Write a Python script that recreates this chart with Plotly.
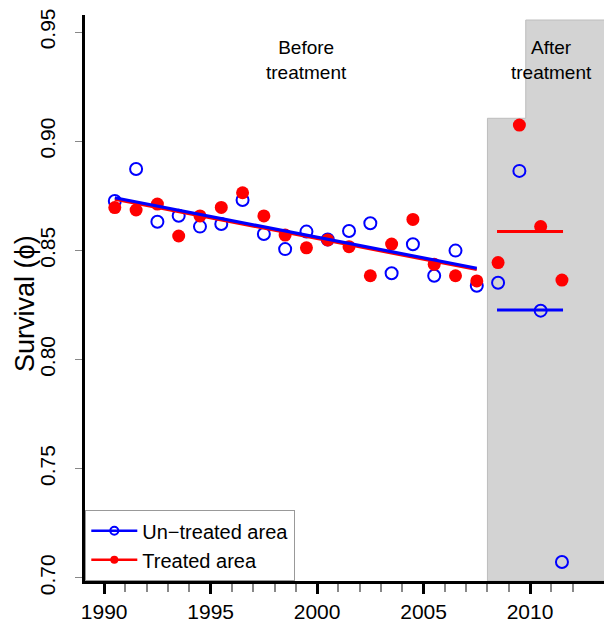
import plotly.graph_objects as go

# ---- data ----
years = [1990.5, 1991.5, 1992.5, 1993.5, 1994.5, 1995.5, 1996.5, 1997.5, 1998.5, 1999.5,
         2000.5, 2001.5, 2002.5, 2003.5, 2004.5, 2005.5, 2006.5, 2007.5, 2008.5, 2009.5,
         2010.5, 2011.5]
untreated = [0.8726, 0.8873, 0.8631, 0.8659, 0.8609, 0.8621, 0.8731, 0.8575, 0.8506, 0.8586,
             0.8550, 0.8589, 0.8624, 0.8395, 0.8528, 0.8384, 0.8499, 0.8338, 0.8352, 0.8864,
             0.8224, 0.7073]
treated = [0.8696, 0.8685, 0.8712, 0.8566, 0.8658, 0.8697, 0.8764, 0.8658, 0.8570, 0.8512,
           0.8548, 0.8517, 0.8384, 0.8529, 0.8642, 0.8436, 0.8384, 0.8360, 0.8444, 0.9074,
           0.8609, 0.8364]

trend_years = [1990.5, 2007.5]
untreated_trend = [0.8741, 0.8418]
treated_trend = [0.8734, 0.8412]

after_years = [2008.45, 2011.55]
untreated_after_mean = [0.8227, 0.8227]
treated_after_mean = [0.8586, 0.8586]

x_tick_vals = [1990, 1995, 2000, 2005, 2010]
x_minor_vals = [1991, 1992, 1993, 1994, 1996, 1997, 1998, 1999, 2001, 2002, 2003, 2004,
                2006, 2007, 2008, 2009, 2011, 2012]
y_tick_vals = [0.70, 0.75, 0.80, 0.85, 0.90, 0.95]
y_tick_text = ["0.70", "0.75", "0.80", "0.85", "0.90", "0.95"]

# shaded "after treatment" region bounds
after_start = 2008.0
after_text_start = 2009.8
after_end = 2013.6
after_low_top = 0.9105
after_high_top = 0.9555

x_range = [1989.1, 2013.85]
y_range = [0.6986, 0.9578]

BLUE = "#0000FF"
RED = "#FF0000"
FONT = "Liberation Sans, Arial, sans-serif"

fig = go.Figure()

fig.add_trace(go.Scatter(x=years, y=untreated, mode="markers", showlegend=False,
                         marker=dict(symbol="circle-open", size=12, color=BLUE,
                                     line=dict(width=2, color=BLUE))))
fig.add_trace(go.Scatter(x=years, y=treated, mode="markers", showlegend=False,
                         marker=dict(symbol="circle", size=13, color=RED)))
fig.add_trace(go.Scatter(x=trend_years, y=treated_trend, mode="lines", showlegend=False,
                         line=dict(color=RED, width=3)))
fig.add_trace(go.Scatter(x=trend_years, y=untreated_trend, mode="lines", showlegend=False,
                         line=dict(color=BLUE, width=3.2)))
fig.add_trace(go.Scatter(x=after_years, y=treated_after_mean, mode="lines", showlegend=False,
                         line=dict(color=RED, width=3)))
fig.add_trace(go.Scatter(x=after_years, y=untreated_after_mean, mode="lines", showlegend=False,
                         line=dict(color=BLUE, width=3)))

# legend entries
fig.add_trace(go.Scatter(x=[None], y=[None], mode="lines+markers", name="Un\u2212treated area",
                         line=dict(color=BLUE, width=2.5),
                         marker=dict(symbol="circle-open", size=8, color=BLUE,
                                     line=dict(width=2, color=BLUE))))
fig.add_trace(go.Scatter(x=[None], y=[None], mode="lines+markers", name="Treated area",
                         line=dict(color=RED, width=2.5),
                         marker=dict(symbol="circle", size=8, color=RED)))

path = (f"M {after_start},{y_range[0]} L {after_start},{after_low_top} "
        f"L {after_text_start},{after_low_top} L {after_text_start},{after_high_top} "
        f"L {after_end},{after_high_top} L {after_end},{y_range[0]} Z")
fig.add_shape(type="path", path=path, xref="x", yref="y", layer="below",
              fillcolor="#D3D3D3", line=dict(color="#BDBDBD", width=1))

fig.add_annotation(x=1999.5, y=0.9374, xref="x", yref="y", text="Before<br>treatment",
                   showarrow=False, font=dict(family=FONT, size=19, color="black"),
                   xanchor="center", yanchor="middle")
fig.add_annotation(x=2011.0, y=0.9374, xref="x", yref="y", text="After<br>treatment",
                   showarrow=False, font=dict(family=FONT, size=19, color="black"),
                   xanchor="center", yanchor="middle")

# y-axis title as rotated text
fig.add_annotation(x=0, y=0.5, xref="paper", yref="paper", text="Survival (\u03d5)",
                   showarrow=False, textangle=-90, xanchor="center", yanchor="middle",
                   xshift=-60, yshift=-6, font=dict(family=FONT, size=27, color="black"))

# the page body adds an 8px offset, so the figure is 8px smaller on each axis
fig.update_layout(
    width=604, height=614,
    margin=dict(l=77, r=0, t=7, b=41, pad=0),
    paper_bgcolor="white", plot_bgcolor="white",
    font=dict(family=FONT, color="black"),
    showlegend=True,
    legend=dict(x=0, y=0, xanchor="left", yanchor="bottom", bgcolor="white",
                bordercolor="#999999", borderwidth=1.3, font=dict(size=20),
                itemwidth=46, tracegroupgap=0),
    xaxis=dict(range=x_range, tickvals=x_tick_vals, ticks="outside", ticklen=10,
               tickwidth=2.5, tickcolor="black", showline=True, linecolor="black",
               linewidth=2.5, showgrid=False, zeroline=False,
               tickfont=dict(size=21),
               minor=dict(tickvals=x_minor_vals, ticks="outside", ticklen=8,
                          tickwidth=1.5, tickcolor="#888888", showgrid=False)),
    yaxis=dict(range=y_range, tickvals=y_tick_vals, ticktext=y_tick_text, tickangle=-90,
               ticks="outside", ticklen=7, tickwidth=1, tickcolor="#888888",
               showline=True, linecolor="black", linewidth=2.5, showgrid=False,
               zeroline=False, tickfont=dict(size=21), ticklabelstandoff=12),
)

fig.write_html("out.html")
